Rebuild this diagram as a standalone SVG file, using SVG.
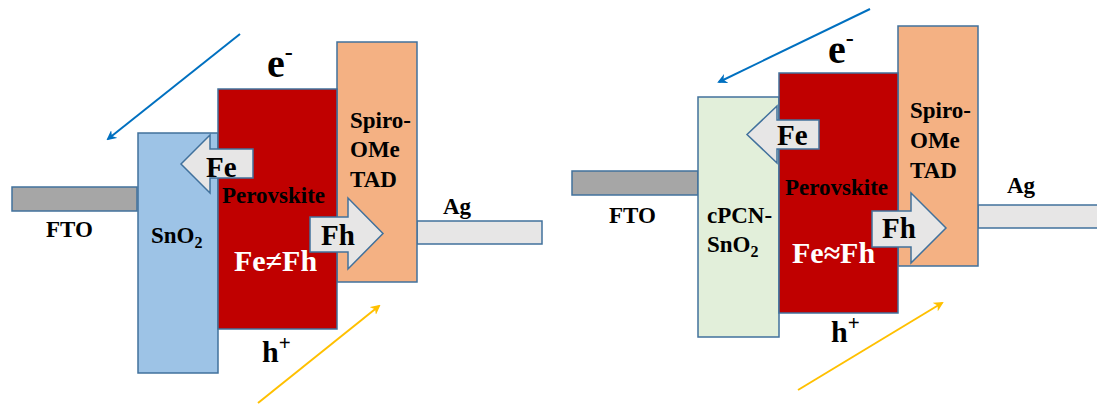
<svg xmlns="http://www.w3.org/2000/svg" width="1097" height="405" viewBox="0 0 1097 405">
<style>
.box{stroke:#41719c;stroke-width:1.5}
.fto{fill:#a6a6a6}
.ag{fill:#e7e6e6}
.sno2{fill:#9dc3e6}
.cpcn{fill:#e2efda}
.pero{fill:#c00000}
.spiro{fill:#f4b183}
.arr{fill:#e7e6e6;stroke:#41719c;stroke-width:1.5}
text{font-family:"Liberation Serif","Times New Roman",serif;font-weight:bold;fill:#000}
.m{font-size:23px}
.big{font-size:29px}
.w{fill:#fff;font-size:30px}
.e{font-size:40px}
.h{font-size:30px}
.blue{stroke:#0070c0;stroke-width:2;fill:none}
.yel{stroke:#ffc000;stroke-width:2;fill:none}
</style>
<defs>
<marker id="mb" viewBox="0 0 10 10" refX="8" refY="5" markerWidth="5" markerHeight="5" orient="auto" markerUnits="strokeWidth"><path d="M0,0 L10,5 L0,10 L3,5 z" fill="#0070c0"/></marker>
<marker id="my" viewBox="0 0 10 10" refX="8" refY="5" markerWidth="5" markerHeight="5" orient="auto" markerUnits="strokeWidth"><path d="M0,0 L10,5 L0,10 L3,5 z" fill="#ffc000"/></marker>
</defs>
<rect width="1097" height="405" fill="#fff"/>

<!-- Left device -->
<g id="fto-left"><rect class="box fto" x="12" y="187" width="125" height="24"/><text class="m" x="46" y="237">FTO</text></g>
<g id="sno2-left"><rect class="box sno2" x="138" y="133" width="80" height="240"/><text class="m" x="151" y="243">SnO<tspan font-size="16" dy="5">2</tspan></text></g>
<g id="ag-left"><rect class="box ag" x="417" y="221" width="125" height="23"/><text class="m" x="443" y="214">Ag</text></g>
<g id="spiro-left"><rect class="box spiro" x="337" y="42" width="80" height="240"/><text class="m" x="350" y="128">Spiro-</text><text class="m" x="350" y="157">OMe</text><text class="m" x="350" y="187">TAD</text></g>
<g id="pero-left"><rect class="box pero" x="218" y="89" width="119" height="240"/><text class="m" x="222" y="203">Perovskite</text><text class="w" x="234" y="271">Fe≠Fh</text></g>
<g id="fe-left"><polygon class="arr" points="181,164 210,135 210,149 253,149 253,178 210,178 210,193"/><text class="big" x="206" y="177">Fe</text></g>
<g id="fh-left"><polygon class="arr" points="310,217 348,217 348,198 383,233.5 348,269 348,252 310,252"/><text class="big" x="321" y="245">Fh</text></g>
<g id="e-left"><text class="e" x="267" y="77">e<tspan font-size="24" dy="-17">-</tspan></text></g>
<g id="h-left"><text class="h" x="262" y="362">h<tspan font-size="21" dy="-12">+</tspan></text></g>

<!-- Right device -->
<g id="fto-right"><rect class="box fto" x="572" y="171" width="126" height="24"/><text class="m" x="609" y="223">FTO</text></g>
<g id="cpcn-right"><rect class="box cpcn" x="698" y="97" width="81" height="240"/><text class="m" x="707" y="223">cPCN-</text><text class="m" x="707" y="252">SnO<tspan font-size="16" dy="5">2</tspan></text></g>
<g id="ag-right"><rect class="box ag" x="978" y="205" width="125" height="23"/><text class="m" x="1007" y="193">Ag</text></g>
<g id="spiro-right"><rect class="box spiro" x="898" y="26" width="80" height="240"/><text class="m" x="910" y="118">Spiro-</text><text class="m" x="910" y="148">OMe</text><text class="m" x="910" y="178">TAD</text></g>
<g id="pero-right"><rect class="box pero" x="779" y="73" width="119" height="240"/><text class="m" x="785" y="195">Perovskite</text><text class="w" x="792" y="263">Fe≈Fh</text></g>
<g id="fe-right"><polygon class="arr" points="747,134.5 777,106 777,120 819,120 819,149 777,149 777,163"/><text class="big" x="777" y="145">Fe</text></g>
<g id="fh-right"><polygon class="arr" points="872,211 911,211 911,193 946,228 911,263 911,247 872,247"/><text class="big" x="882" y="238">Fh</text></g>
<g id="e-right"><text class="e" x="828" y="63">e<tspan font-size="24" dy="-17">-</tspan></text></g>
<g id="h-right"><text class="h" x="831" y="342">h<tspan font-size="21" dy="-12">+</tspan></text></g>

<g id="connectors">
<line class="blue" x1="240" y1="34" x2="108" y2="139" marker-end="url(#mb)"/>
<line class="yel" x1="258" y1="403" x2="379" y2="306" marker-end="url(#my)"/>
<line class="blue" x1="870" y1="9" x2="719" y2="82" marker-end="url(#mb)"/>
<line class="yel" x1="798" y1="390" x2="942" y2="303" marker-end="url(#my)"/>
</g>
</svg>
